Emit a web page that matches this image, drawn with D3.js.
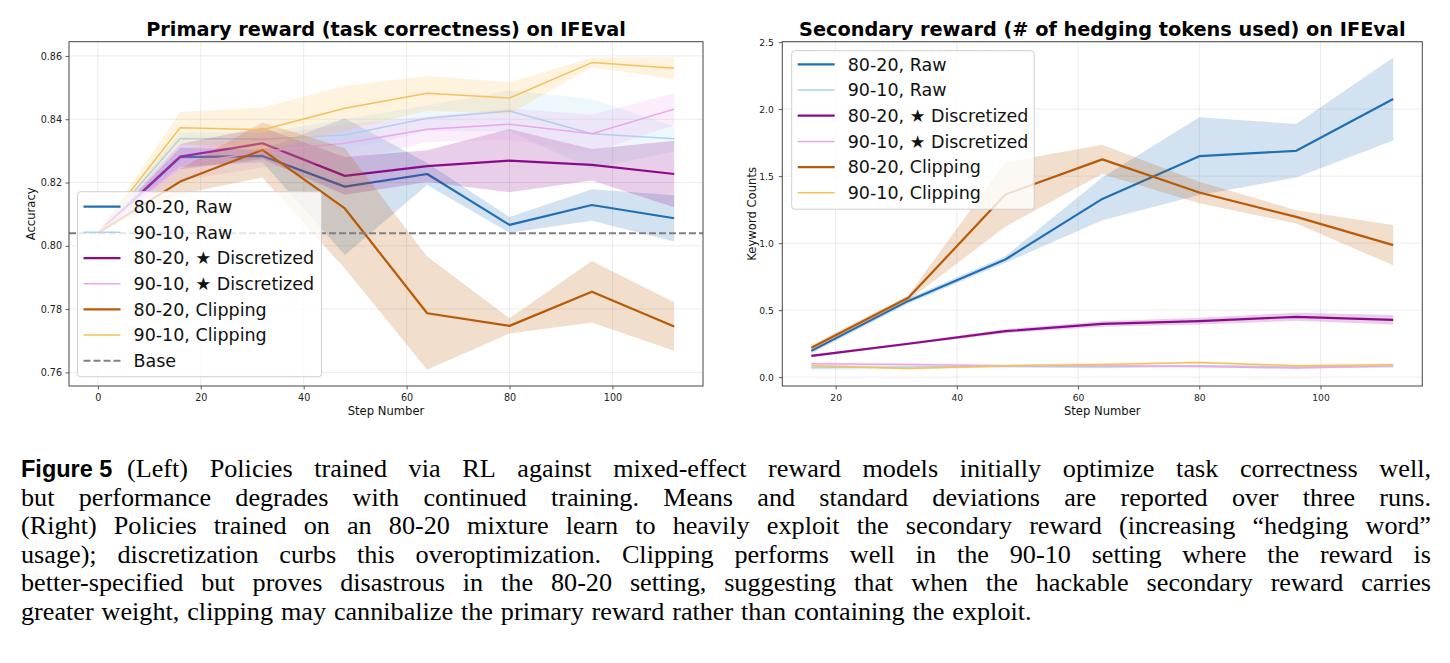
<!DOCTYPE html>
<html>
<head>
<meta charset="utf-8">
<script src="https://cdn.jsdelivr.net/npm/d3@7"></script>
<style>
  body { margin: 0; background: #fff; }
  svg { display: block; }
</style>
</head>
<body>
<svg id="fig" width="1450" height="663"></svg>
<script>
// ---- data ----
let stepsLeft = [0, 16, 32, 48, 64, 80, 96, 112];
let stepsRight = [16, 32, 48, 64, 80, 96, 112];

let seriesNames = ["80-20, Raw", "90-10, Raw", "80-20, \u2605 Discretized",
                   "90-10, \u2605 Discretized", "80-20, Clipping", "90-10, Clipping"];
let seriesColors = ["#1f6fb4", "#a8d6f0", "#8b0a8b", "#eba6ea", "#b85a06", "#f6c15c"];
let seriesWidths = [2.2, 1.5, 2.2, 1.5, 2.2, 1.5];

// Primary reward (accuracy): means and std
let accRaw8020 = [0.804, 0.8280, 0.8284, 0.8187, 0.8227, 0.8066, 0.8129, 0.8087];
let accRaw8020Sd = [0, 0.003, 0.002, 0.0216, 0.0035, 0.0025, 0.005, 0.0073];
let accRaw9010 = [0.804, 0.8339, 0.8337, 0.8350, 0.8403, 0.8426, 0.8354, 0.8338];
let accRaw9010Sd = [0, 0.002, 0.002, 0.005, 0.004, 0.0065, 0.011, 0.004];
let accDisc8020 = [0.804, 0.8282, 0.8324, 0.8221, 0.8252, 0.8269, 0.8256, 0.8227];
let accDisc8020Sd = [0, 0.004, 0.005, 0.006, 0.005, 0.010, 0.005, 0.0105];
let accDisc9010 = [0.804, 0.8256, 0.8298, 0.8324, 0.8368, 0.8384, 0.8354, 0.8432];
let accDisc9010Sd = [0, 0.005, 0.005, 0.006, 0.004, 0.005, 0.006, 0.005];
let accClip8020 = [0.804, 0.8203, 0.8303, 0.8118, 0.7787, 0.7747, 0.7855, 0.7745];
let accClip8020Sd = [0, 0.004, 0.0087, 0.019, 0.0179, 0.0024, 0.0097, 0.0077];
let accClip9010 = [0.804, 0.8373, 0.8367, 0.8435, 0.8482, 0.8467, 0.8579, 0.8561];
let accClip9010Sd = [0, 0.005, 0.007, 0.007, 0.0055, 0.005, 0.0015, 0.0035];
let accBase = 0.804;

// Secondary reward (keyword counts): means and std
let kwRaw8020 = [0.196, 0.569, 0.878, 1.330, 1.649, 1.689, 2.075];
let kwRaw8020Sd = [0.02, 0.02, 0.025, 0.16, 0.29, 0.20, 0.31];
let kwRaw9010 = [0.070, 0.075, 0.080, 0.075, 0.085, 0.075, 0.080];
let kwRaw9010Sd = [0.02, 0.015, 0.01, 0.01, 0.01, 0.01, 0.01];
let kwDisc8020 = [0.159, 0.249, 0.343, 0.397, 0.418, 0.450, 0.428];
let kwDisc8020Sd = [0.01, 0.01, 0.015, 0.02, 0.025, 0.03, 0.035];
let kwDisc9010 = [0.100, 0.095, 0.085, 0.085, 0.080, 0.068, 0.085];
let kwDisc9010Sd = [0.01, 0.01, 0.01, 0.01, 0.01, 0.01, 0.01];
let kwClip8020 = [0.219, 0.592, 1.363, 1.625, 1.378, 1.196, 0.985];
let kwClip8020Sd = [0.02, 0.02, 0.24, 0.11, 0.08, 0.05, 0.15];
let kwClip9010 = [0.085, 0.065, 0.085, 0.095, 0.110, 0.085, 0.093];
let kwClip9010Sd = [0.01, 0.01, 0.01, 0.01, 0.01, 0.01, 0.01];

let accTicks = [0.76, 0.78, 0.80, 0.82, 0.84, 0.86];
let kwTicks = [0.0, 0.5, 1.0, 1.5, 2.0, 2.5];
let stepTicksLeft = [0, 20, 40, 60, 80, 100];
let stepTicksRight = [20, 40, 60, 80, 100];

let captionLabel = "Figure 5";
let captionLines = [
    "(Left) Policies trained via RL against mixed-effect reward models initially optimize task correctness well,",
    "but performance degrades with continued training.  Means and standard deviations are reported over three runs.",
    "(Right) Policies trained on an 80-20 mixture learn to heavily exploit the secondary reward (increasing \u201chedging word\u201d",
    "usage); discretization curbs this overoptimization.  Clipping performs well in the 90-10 setting where the reward is",
    "better-specified but proves disastrous in the 80-20 setting, suggesting that when the hackable secondary reward carries",
    "greater weight, clipping may cannibalize the primary reward rather than containing the exploit."
];

let svg = d3.select("#fig");
svg.append("rect").attr("width", 1450).attr("height", 663).attr("fill", "#fff");

const sans = "DejaVu Sans, sans-serif";

function drawPanel(opt) {
    let g = svg.append("g");
    let x = d3.scaleLinear().domain(opt.xDomain).range([opt.left, opt.right]);
    let y = d3.scaleLinear().domain(opt.yDomain).range([opt.bottom, opt.top]);

    let area = d3.area()
        .x(function (d) { return x(d.s); })
        .y0(function (d) { return y(d.m - d.sd); })
        .y1(function (d) { return y(d.m + d.sd); });
    let line = d3.line()
        .x(function (d) { return x(d.s); })
        .y(function (d) { return y(d.m); });

    let rows = opt.series.map(function (s) {
        return opt.steps.map(function (st, i) { return {s: st, m: s.mean[i], sd: s.sd[i]}; });
    });

    // grid
    g.append("g").selectAll("line").data(opt.xTicks).enter().append("line")
        .attr("x1", function (d) { return x(d); }).attr("x2", function (d) { return x(d); })
        .attr("y1", opt.top).attr("y2", opt.bottom)
        .attr("stroke", "#b0b0b0").attr("stroke-opacity", 0.3).attr("stroke-width", 0.8);
    g.append("g").selectAll("line").data(opt.yTicks).enter().append("line")
        .attr("y1", function (d) { return y(d); }).attr("y2", function (d) { return y(d); })
        .attr("x1", opt.left).attr("x2", opt.right)
        .attr("stroke", "#b0b0b0").attr("stroke-opacity", 0.3).attr("stroke-width", 0.8);

    rows.forEach(function (r, i) {
        g.append("path").datum(r)
            .attr("d", area)
            .attr("fill", seriesColors[i])
            .attr("fill-opacity", 0.2);
        g.append("path").datum(r)
            .attr("d", line)
            .attr("fill", "none")
            .attr("stroke", seriesColors[i])
            .attr("stroke-width", seriesWidths[i])
            .attr("stroke-linejoin", "round");
    });

    if (opt.base !== undefined) {
        g.append("line")
            .attr("x1", opt.left).attr("x2", opt.right)
            .attr("y1", y(opt.base)).attr("y2", y(opt.base))
            .attr("stroke", "#808080").attr("stroke-width", 2)
            .attr("stroke-dasharray", "7,3");
    }

    // axes
    let xAxis = g.append("g")
        .attr("transform", "translate(0," + opt.bottom + ")")
        .call(d3.axisBottom(x).tickValues(opt.xTicks).tickFormat(d3.format("d"))
            .tickSize(3.5).tickSizeOuter(0).tickPadding(4.5));
    let yAxis = g.append("g")
        .attr("transform", "translate(" + opt.left + ",0)")
        .call(d3.axisLeft(y).tickValues(opt.yTicks).tickFormat(opt.yFormat)
            .tickSize(3.5).tickSizeOuter(0).tickPadding(opt.yPad));
    [xAxis, yAxis].forEach(function (a) {
        a.select(".domain").remove();
        a.selectAll("line").attr("stroke", "#333").attr("stroke-width", 0.8);
        a.selectAll("text").attr("font-family", sans).attr("font-size", opt.tickFont).attr("fill", "#222");
    });

    // spines
    g.append("rect")
        .attr("x", opt.left).attr("y", opt.top)
        .attr("width", opt.right - opt.left).attr("height", opt.bottom - opt.top)
        .attr("fill", "none").attr("stroke", "#444").attr("stroke-width", 1);

    // labels
    g.append("text")
        .attr("x", (opt.left + opt.right) / 2).attr("y", 415)
        .attr("text-anchor", "middle")
        .attr("font-family", sans).attr("font-size", 11.6).attr("fill", "#111")
        .text("Step Number");
    g.append("text")
        .attr("transform", "translate(" + opt.yLabelX + "," + ((opt.top + opt.bottom) / 2) + ") rotate(-90)")
        .attr("text-anchor", "middle")
        .attr("font-family", sans).attr("font-size", 11.6).attr("fill", "#111")
        .text(opt.yLabel);
    g.append("text")
        .attr("x", (opt.left + opt.right) / 2).attr("y", 36)
        .attr("text-anchor", "middle")
        .attr("font-family", sans).attr("font-weight", "bold").attr("font-size", 19.3).attr("fill", "#000")
        .text(opt.title);

    // legend
    let L = opt.legend;
    let entries = seriesNames.map(function (n, i) {
        return {name: n, color: seriesColors[i], width: seriesWidths[i], dash: null};
    });
    if (opt.base !== undefined) {
        entries.push({name: "Base", color: "#808080", width: 2, dash: "7,3"});
    }
    let lg = g.append("g");
    lg.append("rect")
        .attr("x", L.x).attr("y", L.y).attr("width", L.w).attr("height", L.h)
        .attr("rx", 3)
        .attr("fill", "#fff").attr("fill-opacity", 0.8)
        .attr("stroke", "#d0d0d0").attr("stroke-width", 1);
    let rowsG = lg.selectAll("g.entry").data(entries).enter().append("g")
        .attr("transform", function (d, i) { return "translate(0," + (L.firstY + i * L.step) + ")"; });
    rowsG.append("line")
        .attr("x1", L.x + 6).attr("x2", L.x + 43)
        .attr("stroke", function (d) { return d.color; })
        .attr("stroke-width", function (d) { return d.width; })
        .attr("stroke-dasharray", function (d) { return d.dash; });
    rowsG.append("text")
        .attr("x", L.x + 56).attr("y", 0)
        .attr("dy", "0.36em")
        .attr("font-family", sans).attr("font-size", 17.5).attr("fill", "#111")
        .text(function (d) { return d.name; });
}

drawPanel({
    left: 69, right: 703, top: 41.7, bottom: 386,
    xDomain: [-5.6, 117.6], yDomain: [0.7557, 0.8645],
    steps: stepsLeft,
    series: [
        {mean: accRaw8020, sd: accRaw8020Sd},
        {mean: accRaw9010, sd: accRaw9010Sd},
        {mean: accDisc8020, sd: accDisc8020Sd},
        {mean: accDisc9010, sd: accDisc9010Sd},
        {mean: accClip8020, sd: accClip8020Sd},
        {mean: accClip9010, sd: accClip9010Sd}
    ],
    base: accBase,
    xTicks: stepTicksLeft, yTicks: accTicks,
    yFormat: d3.format(".2f"), yPad: 3.5, tickFont: 9.6,
    yLabel: "Accuracy", yLabelX: 35,
    title: "Primary reward (task correctness) on IFEval",
    legend: {x: 77.5, y: 191.7, w: 244, h: 185, firstY: 206.7, step: 25.67}
});

drawPanel({
    left: 782.3, right: 1422.3, top: 41.7, bottom: 386,
    xDomain: [11.2, 116.8], yDomain: [-0.066, 2.503],
    steps: stepsRight,
    series: [
        {mean: kwRaw8020, sd: kwRaw8020Sd},
        {mean: kwRaw9010, sd: kwRaw9010Sd},
        {mean: kwDisc8020, sd: kwDisc8020Sd},
        {mean: kwDisc9010, sd: kwDisc9010Sd},
        {mean: kwClip8020, sd: kwClip8020Sd},
        {mean: kwClip9010, sd: kwClip9010Sd}
    ],
    xTicks: stepTicksRight, yTicks: kwTicks,
    yFormat: d3.format(".1f"), yPad: 5, tickFont: 9.2,
    yLabel: "Keyword Counts", yLabelX: 756,
    title: "Secondary reward (# of hedging tokens used) on IFEval",
    legend: {x: 791.7, y: 50.7, w: 242.5, h: 158.5, firstY: 64.3, step: 25.7}
});

// ---- caption, justified word by word ----
let cap = svg.append("g");
const serif = "Liberation Serif, Times New Roman, serif";
const capSize = 26.2;
const capLeft = 21, capRight = 1431;
let capBaselines = [477, 505.5, 534, 562.5, 591, 619.5];

cap.append("text")
    .attr("x", capLeft).attr("y", capBaselines[0])
    .attr("font-family", "Liberation Sans, Arial, sans-serif")
    .attr("font-weight", "bold").attr("font-size", 23.5).attr("fill", "#000")
    .text(captionLabel);

function setLine(str, x0, x1, yb, justify) {
    let words = str.split(/\s+/);
    let nodes = words.map(function (w) {
        return cap.append("text")
            .attr("y", yb)
            .attr("font-family", serif).attr("font-size", capSize).attr("fill", "#000")
            .text(w);
    });
    let widths = nodes.map(function (n) { return n.node().getComputedTextLength(); });
    let total = d3.sum(widths);
    let gap = justify ? (x1 - x0 - total) / (words.length - 1) : capSize * 0.3;
    let cx = x0;
    nodes.forEach(function (n, i) {
        n.attr("x", cx);
        cx += widths[i] + gap;
    });
}

captionLines.forEach(function (ln, i) {
    let x0 = i === 0 ? 127 : capLeft;
    setLine(ln, x0, capRight, capBaselines[i], i < captionLines.length - 1);
});
</script>
</body>
</html>
